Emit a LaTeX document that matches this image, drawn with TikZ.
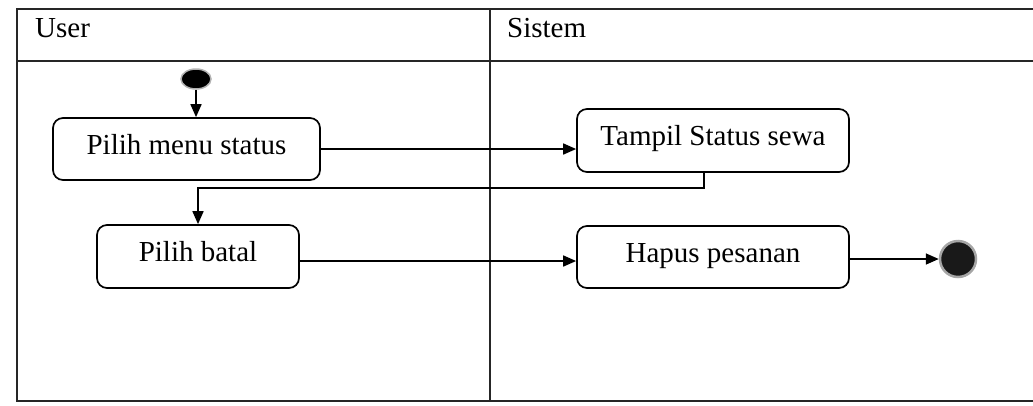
\documentclass[tikz,border=0pt]{standalone}
\usepackage{fontspec}
\setmainfont{Liberation Serif}
\usetikzlibrary{arrows.meta,shapes.geometric}
\begin{document}
\begin{tikzpicture}[x=1pt,y=-1pt,
  font=\fontsize{29}{33}\selectfont,
  frame/.style={line width=2.2pt, black!85},
  action/.style={draw, line width=1.7pt, rounded corners=10pt,
                 text height=16pt, text depth=6pt, inner sep=0pt},
  flow/.style={line width=1.7pt, -{Triangle[length=13pt,width=11pt]}},
  lane/.style={anchor=base west, inner sep=0pt}]
\useasboundingbox (0,0) rectangle (1033,405);

% swimlane frame
\draw[frame] (1033,9) -- (17,9) -- (17,401) -- (1033,401);
\draw[frame] (17,61) -- (1033,61);
\draw[frame] (490,9) -- (490,401);
\node[lane] (user) at (35,37) {User};
\node[lane] (sistem) at (507,37) {Sistem};

% activities
\node[action, minimum width=267pt, minimum height=62pt] (menu) at (186.5,149) {Pilih menu status};
\node[action, minimum width=272pt, minimum height=63pt] (status) at (713,140.5) {Tampil Status sewa};
\node[action, minimum width=202pt, minimum height=63pt] (batal) at (198,256.5) {Pilih batal};
\node[action, minimum width=272pt, minimum height=62pt] (hapus) at (713,257) {Hapus pesanan};

% start and end
\node[ellipse, fill=black, draw=black!30, line width=1.5pt,
      minimum width=30pt, minimum height=20pt, inner sep=0pt] (start) at (196,79) {};
\node[circle, fill=black!90, draw=black!35, line width=2.5pt,
      minimum size=36pt, inner sep=0pt] (finish) at (958,259) {};

% control flow
\draw[flow] (start.south) -- (start.south |- menu.north);
\draw[flow] (menu.east) -- (menu.east -| status.west);
\draw[flow] ([xshift=-9pt]status.south) -- ++(0,15) -| (batal.north);
\draw[flow] ([yshift=-4.5pt]batal.east) -- ([yshift=-4.5pt]batal.east -| hapus.west);
\draw[flow] ([yshift=-2pt]hapus.east) -- (finish.west);
\end{tikzpicture}
\end{document}
